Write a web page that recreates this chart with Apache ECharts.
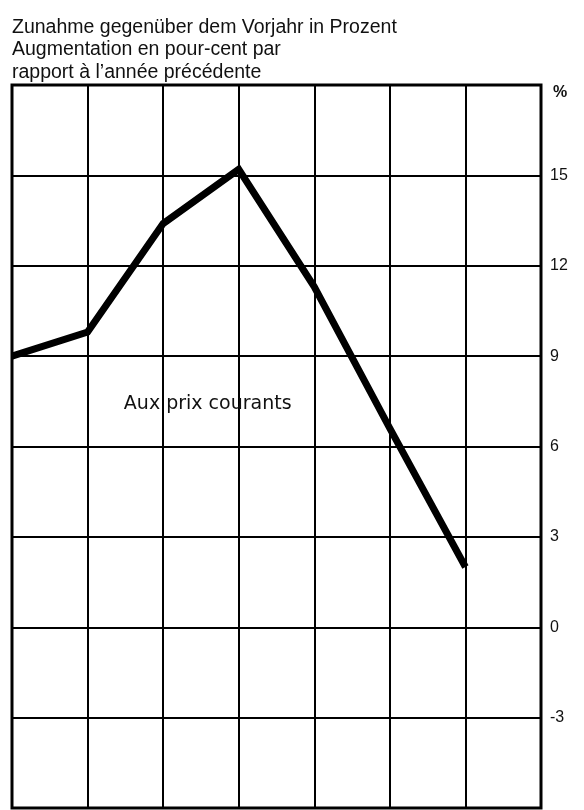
<!DOCTYPE html>
<html>
<head>
<meta charset="utf-8">
<script src="https://cdn.jsdelivr.net/npm/echarts@6/dist/echarts.min.js"></script>
<style>
html,body{margin:0;padding:0;background:#fff;}
#chart{width:584px;height:810px;}
</style>
</head>
<body>
<div id="chart"></div>
<script>
var categories = ['1', '2', '3', '4', '5', '6', '7', '8'];
var values = [9.0, 9.8, 13.4, 15.2, 11.3, 6.6, 2.0];
var tickLabels = ['-3', '0', '3', '6', '9', '12', '15'];
var titleLines = ['Zunahme gegenüber dem Vorjahr in Prozent', 'Augmentation en pour-cent par', 'rapport à l\u2019année précédente'];
var seriesLabel = 'Aux prix courants';

var chart = echarts.init(document.getElementById('chart'), null, {renderer: 'canvas'});
var font = '"Liberation Sans", Arial, Helvetica, sans-serif';
chart.setOption({
  backgroundColor: '#fff',
  animation: false,
  title: {
    text: titleLines.join('\n'),
    left: 7,
    top: 11,
    textStyle: {fontFamily: font, fontSize: 19.5, fontWeight: 'normal', color: '#111', lineHeight: 22.5}
  },
  grid: {left: 12, right: 43, top: 85, bottom: 2, show: true, borderColor: '#000', borderWidth: 3, backgroundColor: 'transparent'},
  xAxis: {
    type: 'category',
    data: categories,
    boundaryGap: false,
    axisLine: {show: false},
    axisTick: {show: false},
    axisLabel: {show: false},
    splitLine: {show: true, interval: 0, lineStyle: {color: '#000', width: 2}}
  },
  yAxis: {
    type: 'value',
    position: 'right',
    min: -6,
    max: 18,
    interval: 3,
    name: '%',
    nameLocation: 'end',
    nameGap: -8,
    nameTextStyle: {fontFamily: font, fontSize: 16, fontWeight: 'bold', color: '#111', align: 'left', verticalAlign: 'middle', padding: [0, 0, 0, 12]},
    axisLine: {show: false},
    axisTick: {show: false},
    axisLabel: {
      margin: 9,
      fontFamily: font, fontSize: 16, color: '#111',
      formatter: function (v) { var s = String(v); return tickLabels.indexOf(s) >= 0 ? s : ''; }
    },
    splitLine: {show: true, lineStyle: {color: '#000', width: 2}}
  },
  series: [{
    type: 'line',
    name: seriesLabel,
    data: values,
    showSymbol: false,
    symbol: 'none',
    lineStyle: {color: '#000', width: 7, join: 'miter'},
    markPoint: {
      symbol: 'rect', symbolSize: 0,
      label: {show: true, formatter: seriesLabel, fontFamily: '"DejaVu Sans", sans-serif', fontSize: 19, color: '#111', position: 'inside', offset: [-31, 0]},
      data: [{coord: ['4', 7.4]}]
    }
  }]
});
</script>
</body>
</html>
